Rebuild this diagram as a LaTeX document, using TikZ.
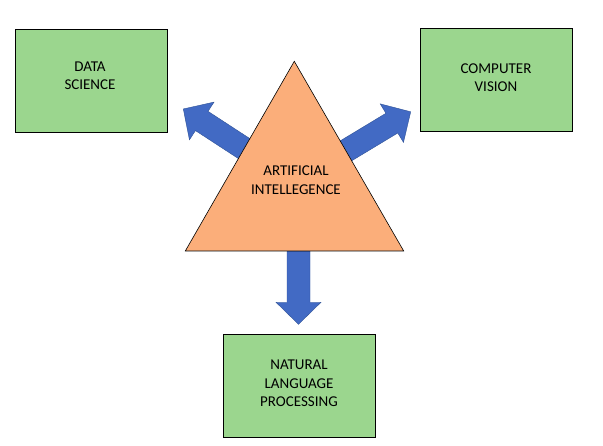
\documentclass[tikz,border=0pt]{standalone}
\usepackage{fontspec}
\setmainfont{Carlito}
\definecolor{boxgreen}{RGB}{155,214,142}
\definecolor{triorange}{RGB}{251,174,122}
\definecolor{arrblue}{RGB}{66,106,196}
\definecolor{arrline}{RGB}{47,82,150}
\tikzset{
  fieldbox/.style={draw=black, line width=0.9pt, fill=boxgreen, minimum width=152pt, minimum height=103pt, inner sep=0pt},
  fieldtext/.style={align=center, font=\fontsize{15}{18.5}\selectfont, inner sep=0pt},
  blockarr/.style={fill=arrblue, draw=arrline, line width=0.4pt},
  pics/blockarrow/.style={code={
    \path[blockarr] (0,-11.5) -- (#1-22,-11.5) -- (#1-22,-22.5) -- (#1,0) -- (#1-22,22.5) -- (#1-22,11.5) -- (0,11.5) -- cycle;
  }}
}
\begin{document}
\begin{tikzpicture}[x=1pt,y=1pt]
\useasboundingbox (0,0) rectangle (603,445);
% boxes
\node[fieldbox] (ds) at (91.3,364.2) {};
\node[fieldbox] (cv) at (496.5,365.2) {};
\node[fieldbox] (nlp) at (299.5,59.2) {};
\node[fieldtext] (dst) at (90,369.5) {DATA\\SCIENCE};
\node[fieldtext] (cvt) at (496,367.5) {COMPUTER\\VISION};
\node[fieldtext] (nlpt) at (299,61.7) {NATURAL\\LANGUAGE\\PROCESSING};
% arrows
\coordinate (tdown) at (298.5,200);
\coordinate (tleft) at (247.8,294);
\coordinate (tright) at (342.2,291.9);
\pic[rotate=-90] at (tdown) {blockarrow=79.3};
\pic[rotate=146.9] at (tleft) {blockarrow=77};
\pic[rotate=31.1] at (tright) {blockarrow=80};
% triangle
\coordinate (ta) at (185.3,194);
\coordinate (tb) at (403.7,194);
\coordinate (tc) at (294.3,383.7);
\draw[fill=triorange, line width=0.6pt, line join=miter] (ta) -- (tb) -- (tc) -- cycle;
\node[fieldtext] (ai) at (296,265) {ARTIFICIAL\\INTELLEGENCE};
\end{tikzpicture}
\end{document}
